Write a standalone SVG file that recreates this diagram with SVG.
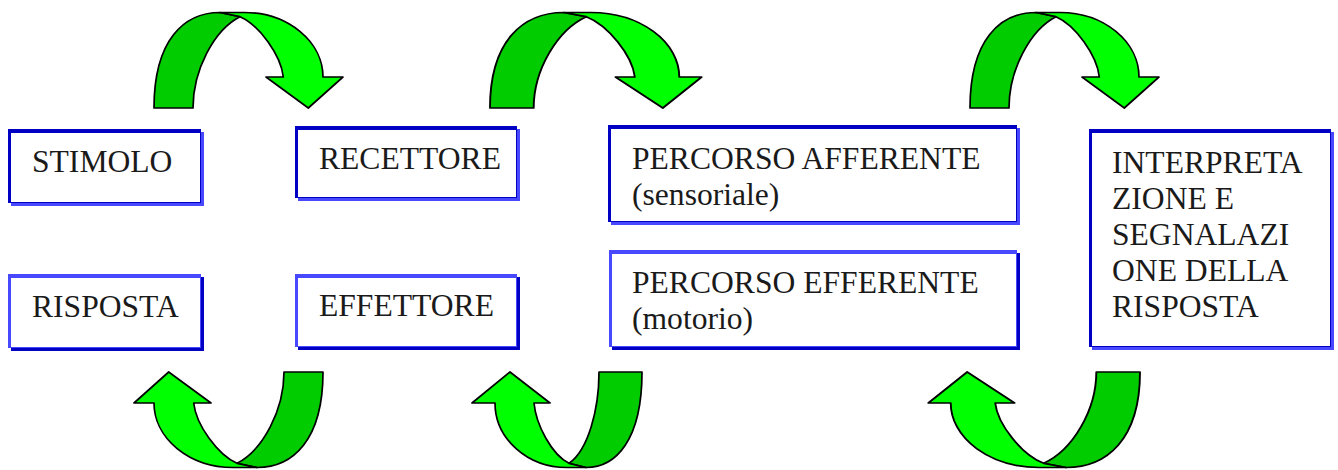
<svg xmlns="http://www.w3.org/2000/svg" xmlns:xlink="http://www.w3.org/1999/xlink" width="1338" height="470" viewBox="0 0 1338 470">
<style>
.dk{fill:#0000c4}
.lt{fill:#4848ff}
.bg{fill:#ffffff}
.t{font-family:"Liberation Serif","Times New Roman",serif;font-size:31.6px;fill:#1a1a1a}
.adk{fill:#00cc00;stroke:#000;stroke-width:1.7;stroke-linejoin:round}
.alt{fill:#00ff00;stroke:#000;stroke-width:1.7;stroke-linejoin:round}
</style>
<defs>
<g id="curvedArrow">
<path class="adk" d="M0,108 C0,40 30,12.5 66,12.5 L86,16.7 C60,30 39,70 39,108 Z"/>
<path class="alt" d="M66,12.5 L90,12.5 A79,64.5 0 0 1 169,77 L189,77 L154.3,108 L112,77 L129.3,77 C127,55 105,25 86,16.7 Z"/>
</g>
<g id="curvedArrowNarrow">
<path class="adk" d="M0,108 C0,40 26,12.5 56,12.5 L73,16.7 C54,30 43,70 43,108 Z"/>
<path class="alt" d="M56,12.5 L75,12.5 A72,64.5 0 0 1 147,77 L170,77 L132,108 L92,77 L108,77 C106,55 90,25 73,16.7 Z"/>
</g>
</defs>
<rect width="1338" height="470" fill="#fff"/>
<g id="connectors">
<use xlink:href="#curvedArrow" transform="translate(154,0)"/>
<use xlink:href="#curvedArrow" transform="translate(490,0) scale(1.12,1)"/>
<use xlink:href="#curvedArrow" transform="translate(970,0)"/>
<use xlink:href="#curvedArrow" transform="translate(323,480) rotate(180)"/>
<use xlink:href="#curvedArrowNarrow" transform="translate(642,480) rotate(180)"/>
<use xlink:href="#curvedArrow" transform="translate(1140,480) rotate(180) scale(1.12,1)"/>
</g>
<g id="stimolo">
<rect class="lt" x="11" y="132" width="193" height="74"/>
<rect class="dk" x="8" y="129" width="193" height="74"/>
<rect class="bg" x="11" y="133" width="189" height="69"/>
<text class="t" x="32" y="172">STIMOLO</text>
</g>
<g id="recettore">
<rect class="lt" x="298" y="129" width="222" height="72"/>
<rect class="dk" x="295" y="126" width="222" height="72"/>
<rect class="bg" x="298" y="130" width="218" height="67"/>
<text class="t" x="319" y="169">RECETTORE</text>
</g>
<g id="percorso-afferente">
<rect class="lt" x="611" y="128" width="409" height="97"/>
<rect class="dk" x="608" y="125" width="409" height="97"/>
<rect class="bg" x="611" y="129" width="405" height="92"/>
<text class="t" x="632" y="169">PERCORSO AFFERENTE</text>
<text class="t" x="632" y="205">(sensoriale)</text>
</g>
<g id="interpretazione">
<rect class="lt" x="1092" y="132" width="242" height="218"/>
<rect class="dk" x="1089" y="129" width="242" height="218"/>
<rect class="bg" x="1092" y="133" width="238" height="213"/>
<text class="t" x="1112" y="173">INTERPRETA</text>
<text class="t" x="1112" y="209">ZIONE E</text>
<text class="t" x="1112" y="245">SEGNALAZI</text>
<text class="t" x="1112" y="281">ONE DELLA</text>
<text class="t" x="1112" y="317">RISPOSTA</text>
</g>
<g id="risposta">
<rect class="dk" x="11" y="277" width="193" height="74"/>
<rect class="lt" x="8" y="274" width="193" height="74"/>
<rect class="bg" x="11" y="278" width="189" height="69"/>
<text class="t" x="32" y="317">RISPOSTA</text>
</g>
<g id="effettore">
<rect class="dk" x="298" y="277" width="222" height="73"/>
<rect class="lt" x="295" y="274" width="222" height="73"/>
<rect class="bg" x="298" y="278" width="218" height="68"/>
<text class="t" x="319" y="316">EFFETTORE</text>
</g>
<g id="percorso-efferente">
<rect class="dk" x="612" y="253" width="408" height="97"/>
<rect class="lt" x="609" y="250" width="408" height="97"/>
<rect class="bg" x="612" y="254" width="404" height="92"/>
<text class="t" x="632" y="293">PERCORSO EFFERENTE</text>
<text class="t" x="632" y="329">(motorio)</text>
</g>
</svg>
